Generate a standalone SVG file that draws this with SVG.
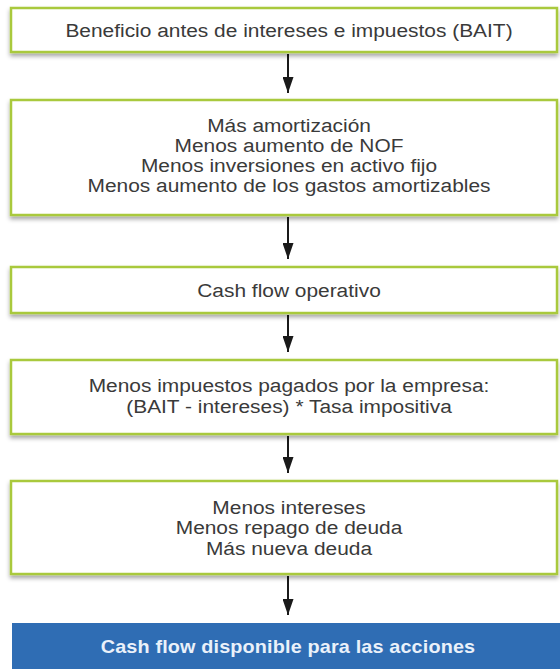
<svg xmlns="http://www.w3.org/2000/svg" width="560" height="669" viewBox="0 0 560 669">
<defs>
<filter id="sh" x="-5%" y="-20%" width="110%" height="150%">
<feDropShadow dx="0" dy="3" stdDeviation="2" flood-color="#000" flood-opacity="0.35"/>
</filter>
<marker id="ah" markerWidth="16" markerHeight="11" refX="16" refY="5.5" orient="auto" markerUnits="userSpaceOnUse" viewBox="0 0 16 11">
<path d="M0,0 L16,5.5 L0,11 Z" fill="#1a1a1a"/>
</marker>
<style>
.box{fill:#fff;stroke:#a9c93c;stroke-width:2.5;filter:url(#sh)}
.t{font-family:"Liberation Sans",Arial,sans-serif;font-size:19px;fill:#3a3a3a;text-anchor:middle}
.tb{font-family:"Liberation Sans",Arial,sans-serif;font-size:18px;font-weight:bold;fill:#eaf1fa;text-anchor:middle;letter-spacing:0.15px}
.c{stroke:#1a1a1a;stroke-width:2;fill:none;marker-end:url(#ah)}
</style>
</defs>
<rect width="560" height="669" fill="#fff"/>
<g id="connectors">
<line class="c" x1="288" y1="54" x2="288" y2="93"/>
<line class="c" x1="288" y1="217" x2="288" y2="259"/>
<line class="c" x1="288" y1="315" x2="288" y2="352"/>
<line class="c" x1="288" y1="436" x2="288" y2="473"/>
<line class="c" x1="288" y1="576" x2="288" y2="615"/>
</g>
<g id="n1">
<rect class="box" x="11" y="8" width="546" height="44"/>
<g transform="translate(289,0) scale(1.1,1)">
<text class="t" x="0" y="37">Beneficio antes de intereses e impuestos (BAIT)</text>
</g>
</g>
<g id="n2">
<rect class="box" x="11" y="100" width="546" height="115"/>
<g transform="translate(289,0) scale(1.1,1)">
<text class="t" x="0" y="132">Más amortización</text>
<text class="t" x="0" y="152.5">Menos aumento de NOF</text>
<text class="t" x="0" y="172.5">Menos inversiones en activo fijo</text>
<text class="t" x="0" y="192.5">Menos aumento de los gastos amortizables</text>
</g>
</g>
<g id="n3">
<rect class="box" x="11" y="267" width="546" height="46"/>
<g transform="translate(289,0) scale(1.1,1)">
<text class="t" x="0" y="297">Cash flow operativo</text>
</g>
</g>
<g id="n4">
<rect class="box" x="11" y="360" width="546" height="74"/>
<g transform="translate(289,0) scale(1.1,1)">
<text class="t" x="0" y="392">Menos impuestos pagados por la empresa:</text>
<text class="t" x="0" y="413">(BAIT - intereses) * Tasa impositiva</text>
</g>
</g>
<g id="n5">
<rect class="box" x="11" y="481" width="546" height="93"/>
<g transform="translate(289,0) scale(1.1,1)">
<text class="t" x="0" y="514">Menos intereses</text>
<text class="t" x="0" y="534.5">Menos repago de deuda</text>
<text class="t" x="0" y="555">Más nueva deuda</text>
</g>
</g>
<g id="n6">
<rect x="12" y="623" width="550" height="50" fill="#2f6db4"/>
<g transform="translate(288,0) scale(1.1,1)">
<text class="tb" x="0" y="653">Cash flow disponible para las acciones</text>
</g>
</g>
</svg>
